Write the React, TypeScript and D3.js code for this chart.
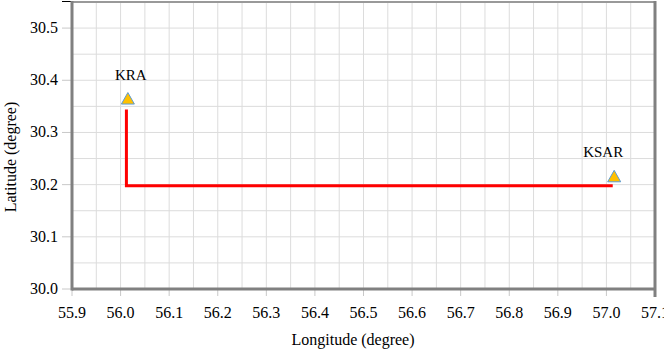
import React from "react";
import * as d3 from "d3";

const stationNames = ["KRA", "KSAR"];
const stationLon = [56.015, 57.016];
const stationLat = [30.364, 30.215];

const pathLon = [56.012, 56.012, 57.013];
const pathLat = [30.344, 30.198, 30.198];

const xTicks = [55.9, 56.0, 56.1, 56.2, 56.3, 56.4, 56.5, 56.6, 56.7, 56.8, 56.9, 57.0, 57.1];
const yTicks = [30.0, 30.1, 30.2, 30.3, 30.4, 30.5];

const W = 664;
const H = 350;
const FONT = '"Liberation Serif", "Times New Roman", Times, "DejaVu Serif", serif';

export default function App() {
  const x = d3.scaleLinear().domain([55.9, 57.1]).range([72, 655]);
  const y = d3.scaleLinear().domain([30.0, 30.55]).range([289, 2]);

  const gridX = d3.range(0, 25).map((i) => 55.9 + i * 0.05);
  const gridY = d3.range(0, 12).map((i) => 30.0 + i * 0.05);

  const line = d3
    .line<number>()
    .x((_, i) => x(pathLon[i]))
    .y((_, i) => y(pathLat[i]));

  const tri = (cx: number, cy: number) =>
    `M${cx},${cy - 6.5}L${cx + 6.5},${cy + 5}L${cx - 6.5},${cy + 5}Z`;

  const labelOffsets = [
    [3, -19],
    [-11, -20],
  ];

  const [x0, x1] = x.range();
  const [y0, y1] = y.range();
  const ts = { fontFamily: FONT, fontSize: "16px" };
  const ls = { fontFamily: FONT, fontSize: "15px" };

  return (
    <div style={{ position: "absolute", left: 0, top: 0 }}>
      <svg width={W} height={H} style={{ display: "block", background: "#fff", fontFamily: FONT }}>
        {gridX.map((v, i) => (
          <line key={"gx" + i} x1={x(v)} x2={x(v)} y1={y1} y2={y0} stroke="#dcdcdc" strokeWidth={1} />
        ))}
        {gridY.map((v, i) => (
          <line key={"gy" + i} x1={x0} x2={x1} y1={y(v)} y2={y(v)} stroke="#dcdcdc" strokeWidth={1} />
        ))}
        {xTicks.map((v, i) => (
          <line key={"xt" + i} x1={x(v)} x2={x(v)} y1={y0} y2={y0 + 7} stroke="#c8c8c8" strokeWidth={1} />
        ))}
        {yTicks.map((v, i) => (
          <line key={"yt" + i} x1={x0 - 10} x2={x0} y1={y(v)} y2={y(v)} stroke="#c8c8c8" strokeWidth={1} />
        ))}
        <line x1={x0 - 10} x2={x0} y1={y1 - 0.5} y2={y1 - 0.5} stroke="#000" strokeWidth={1} />
        <line x1={x0} x2={x1} y1={y1} y2={y1} stroke="#999" strokeWidth={2} />
        <line x1={x0} x2={x0} y1={y1 - 1} y2={y0 + 1.5} stroke="#808080" strokeWidth={3} />
        <line x1={x1} x2={x1} y1={y1 - 1} y2={y0 + 8} stroke="#808080" strokeWidth={3} />
        <line x1={x0} x2={x1} y1={y0} y2={y0} stroke="#808080" strokeWidth={3} />
        <path d={line(pathLon) || ""} fill="none" stroke="#ff0000" strokeWidth={3} />
        {stationNames.map((n, i) => (
          <g key={n}>
            <path d={tri(x(stationLon[i]), y(stationLat[i]))} fill="#FFC000" stroke="#5B9BD5" strokeWidth={1} />
            <text
              x={x(stationLon[i]) + labelOffsets[i][0]}
              y={y(stationLat[i]) + labelOffsets[i][1]}
              textAnchor="middle"
              style={ls}
              fill="#000"
            >
              {n}
            </text>
          </g>
        ))}
        {xTicks.map((v, i) => (
          <text key={"xl" + i} x={x(v)} y={318} textAnchor="middle" style={ts} fill="#000">
            {v.toFixed(1)}
          </text>
        ))}
        {yTicks.map((v, i) => (
          <text key={"yl" + i} x={58} y={y(v) + 5} textAnchor="end" style={ts} fill="#000">
            {v.toFixed(1)}
          </text>
        ))}
        <text x={353} y={345} textAnchor="middle" style={ts} fill="#000">
          Longitude (degree)
        </text>
        <text transform={`translate(15.5,${157}) rotate(-90)`} textAnchor="middle" style={ts} fill="#000">
          Latitude (degree)
        </text>
      </svg>
    </div>
  );
}
